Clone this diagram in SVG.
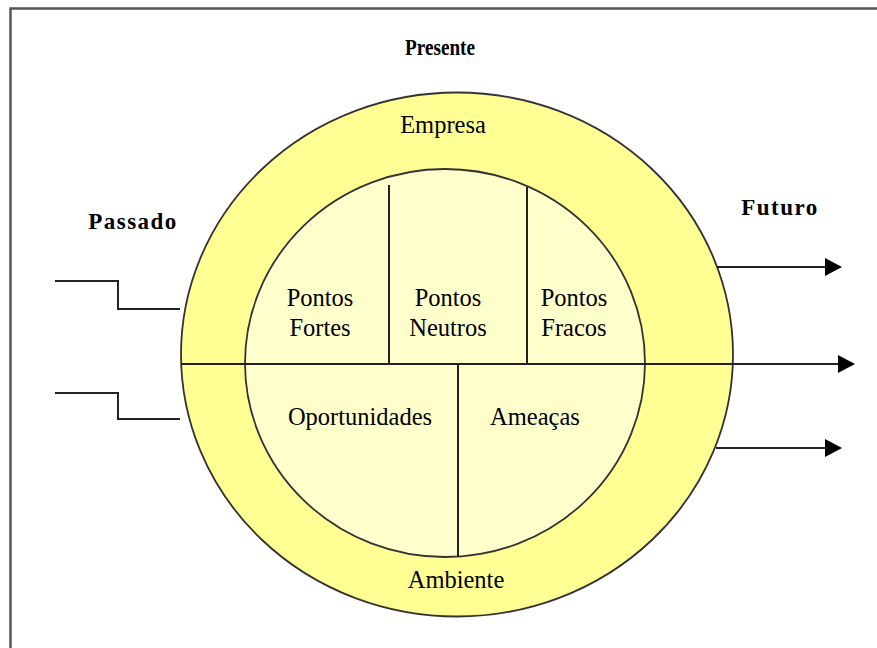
<svg xmlns="http://www.w3.org/2000/svg" width="877" height="648" viewBox="0 0 877 648">
<style>
.lbl{font-family:"Liberation Serif","Times New Roman",serif;font-size:24.5px;fill:#000;text-anchor:middle}
.hd{font-family:"Liberation Serif","Times New Roman",serif;font-size:23px;font-weight:bold;fill:#000;text-anchor:middle}
.ln{stroke:#222;stroke-width:2;fill:none}
</style>
<defs>
<marker id="ah" markerWidth="17" markerHeight="18" refX="0" refY="9" orient="auto" markerUnits="userSpaceOnUse">
<path d="M0,0 L17,9 L0,18 Z" fill="#000"/>
</marker>
</defs>
<rect width="877" height="648" fill="#fff"/>
<path d="M10.5,648 V8.5 H877" fill="none" stroke="#555" stroke-width="2.5"/>
<g id="outer">
<ellipse cx="457" cy="354.5" rx="276" ry="262" fill="#FFFF94" stroke="#333" stroke-width="1.8"/>
</g>
<g id="inner">
<ellipse cx="445" cy="363" rx="200" ry="194" fill="#FFFFCC" stroke="#333" stroke-width="1.8"/>
</g>
<g id="connectors">
<line class="ln" x1="389" y1="185" x2="389" y2="364"/>
<line class="ln" x1="527" y1="187" x2="527" y2="364"/>
<line class="ln" x1="458" y1="364" x2="458" y2="557"/>
<line class="ln" x1="181" y1="364" x2="838" y2="364" marker-end="url(#ah)"/>
<line class="ln" x1="717" y1="267" x2="825" y2="267" marker-end="url(#ah)"/>
<line class="ln" x1="716" y1="448" x2="825" y2="448" marker-end="url(#ah)"/>
<polyline class="ln" points="55,281 118,281 118,309 180,309"/>
<polyline class="ln" points="55,393 118,393 118,419 180,419"/>
</g>
<g id="presente"><text class="hd" x="440" y="55" textLength="70" lengthAdjust="spacingAndGlyphs">Presente</text></g>
<g id="passado"><text class="hd" x="133" y="229" letter-spacing="1.5">Passado</text></g>
<g id="futuro"><text class="hd" x="780" y="215" letter-spacing="1.5">Futuro</text></g>
<g id="empresa"><text class="lbl" x="443" y="133">Empresa</text></g>
<g id="ambiente"><text class="lbl" x="456" y="588">Ambiente</text></g>
<g id="fortes"><text class="lbl" x="320" y="306">Pontos</text><text class="lbl" x="320" y="336">Fortes</text></g>
<g id="neutros"><text class="lbl" x="448" y="306">Pontos</text><text class="lbl" x="448" y="336">Neutros</text></g>
<g id="fracos"><text class="lbl" x="574" y="306">Pontos</text><text class="lbl" x="574" y="336">Fracos</text></g>
<g id="oportunidades"><text class="lbl" x="360" y="425">Oportunidades</text></g>
<g id="ameacas"><text class="lbl" x="535" y="425">Ameaças</text></g>
</svg>
